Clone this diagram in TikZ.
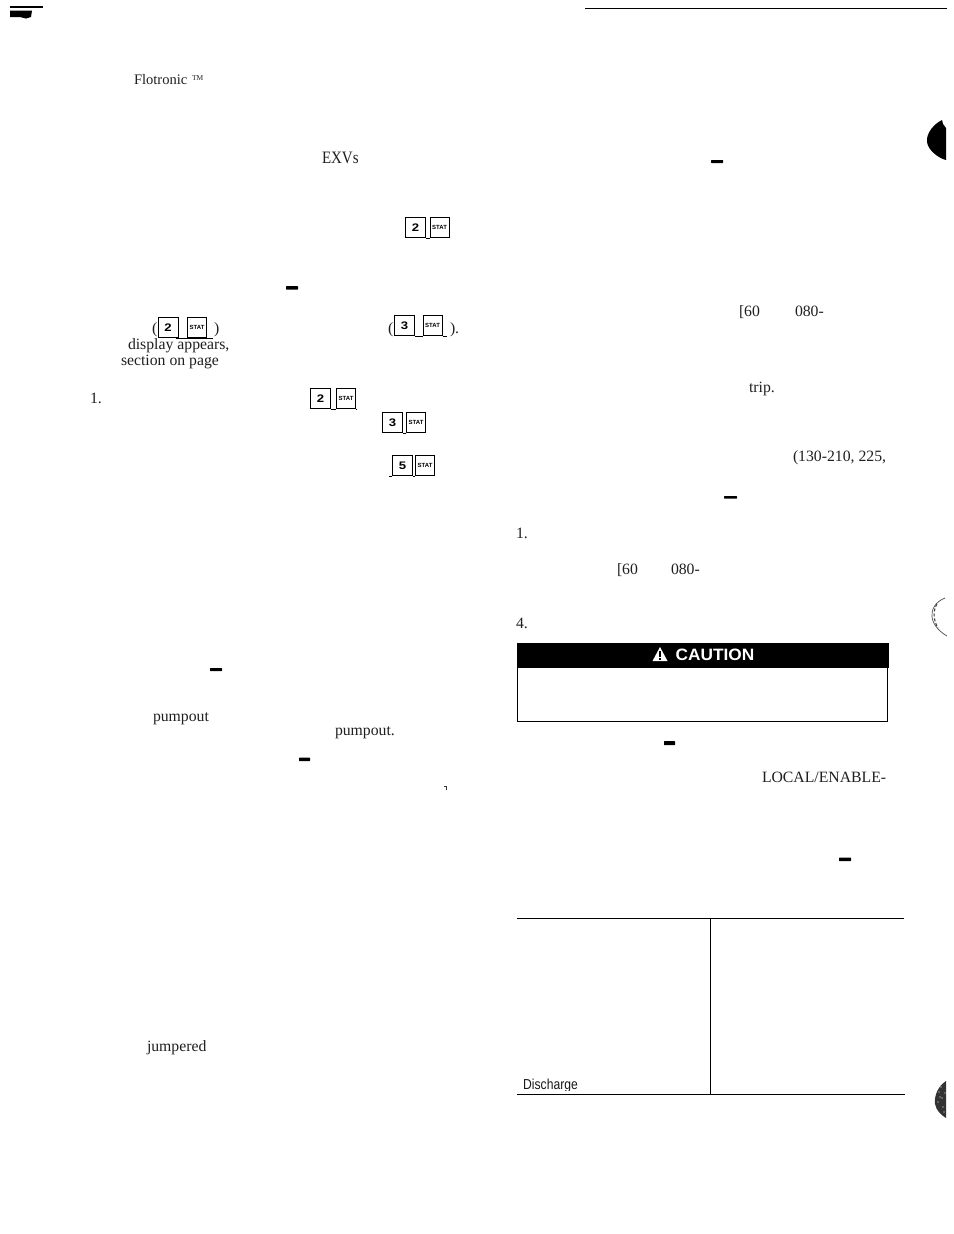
\documentclass[tikz,border=0pt]{standalone}
\usepackage{fontspec}
\setmainfont{Liberation Serif}
\setsansfont{Liberation Sans}
\tikzset{
  x=1bp,y=-1bp,
  txt/.style={anchor=base west,inner sep=0pt,outer sep=0pt,font=\fontsize{15.8}{16}\selectfont,text=black!88},
  keybox/.style={draw=black,line width=1.15pt,fill=white,inner sep=0pt,minimum width=20bp,minimum height=20bp,font=\sffamily\bfseries\fontsize{11}{11}\selectfont},
  statbox/.style={draw=black,line width=1.15pt,fill=white,inner sep=0pt,minimum width=19bp,minimum height=20bp,font=\sffamily\bfseries\fontsize{6}{6}\selectfont},
  tie/.style={line width=1pt,black},
  rulel/.style={line width=1pt,black},
  dashmark/.style={fill=black,draw=none,rounded corners=0.5bp},
}
% name, digit, left x of digit key, left x of stat key, top y
\newcommand{\keypair}[5]{%
  \node[keybox,anchor=north west] (#1a) at (#3,#5) {\addfontfeatures{FakeStretch=1.2}#2};
  \node[statbox,anchor=north west] (#1b) at (#4,#5) {STAT};
  \draw[tie] (#1a.south east) -- (#1b.south west);
}
\newcommand{\dashbar}[4]{\fill[dashmark] (#1,#3) rectangle (#2,#4);}
\begin{document}
\begin{tikzpicture}
\useasboundingbox (0,0) rectangle (954,1234);
\fill[white] (0,0) rectangle (954,1234);

% page-edge marks
\fill[black] (10,6) -- (43,6) -- (43,8) -- (10,8) -- cycle;
\fill[black] (10,10.5) -- (32,10.5) -- (31,17) -- (26,18.5) -- (20,17) -- (10,17) -- cycle;
\draw[line width=0.9pt,black] (585,8) -- (947,8);

% left column texts
\node[txt,font=\fontsize{14.6}{15}\selectfont] (flo) at (134,84.5) {Flotronic};
\node[txt,font=\fontsize{7.5}{8}\selectfont] (tm) at (192,80) {TM};
\node[txt,font=\fontsize{17.5}{18}\selectfont] (exv) at (322,163.5) {\addfontfeatures{FakeStretch=0.86}EXVs};
\node[txt] (pa) at (152,333) {(};
\node[txt] (pb) at (214,333) {)};
\node[txt] (pc) at (388,333) {(};
\node[txt] (pd) at (450,333) {).};
\node[txt] (dis) at (128,349.5) {display appears,};
\node[txt] (sec) at (121,365) {section on page};
\node[txt] (one) at (90,403) {1.};
\node[txt] (pu1) at (153,721) {pumpout};
\node[txt] (pu2) at (335,735) {pumpout.};
\node[txt] (jum) at (147,1051) {jumpered};

% key pairs
\keypair{ka}{2}{405}{429.5}{217}
\keypair{kb}{2}{157.5}{187}{317}
\draw[tie,line width=1.2pt] (kba.south east) ++(-3,0) -- (kbb.south east) -- ++(6,0);
\keypair{kc}{3}{394}{422.5}{315}
\draw[tie] (kcb.south east) -- ++(4,0);
\keypair{kd}{2}{310}{336}{388}
\draw[tie] (kdb.south east) -- ++(1,0);
\keypair{ke}{3}{382}{406}{412}
\keypair{kf}{5}{392}{415}{455}
\draw[tie] (kfa.south west) -- ++(-3,0);

% short dashes
\dashbar{286}{298}{286}{289.5}
\dashbar{711}{723}{160}{163}
\dashbar{210}{222}{668}{671}
\dashbar{299}{310}{757.5}{761}
\dashbar{724}{737}{496}{498.5}
\dashbar{664}{675}{741}{745}
\dashbar{839}{851}{857.5}{861}
\draw[line width=0.5pt,black!80] (443.5,786.5) -- (446,786.5) -- (446,790);

% right column texts
\node[txt] (r1a) at (739,316.5) {[60};
\node[txt] (r1b) at (795,316.5) {080-};
\node[txt] (trip) at (749,392.5) {trip.};
\node[txt] (mod) at (793,461.5) {(130-210, 225,};
\node[txt] (r1) at (516,538) {1.};
\node[txt] (r2a) at (617,574.5) {[60};
\node[txt] (r2b) at (671,574.5) {080-};
\node[txt] (r4) at (516,628) {4.};
\node[txt] (loc) at (762,782) {LOCAL/ENABLE-};

% caution box
\draw[line width=1pt,black] (517.5,660) rectangle (887.5,721);
\fill[black] (517,643) rectangle (889,668);
\fill[white] (660,647) -- (667.5,661) -- (652.5,661) -- cycle;
\fill[black] (659.2,651) rectangle (660.8,657);
\fill[black] (659.2,658) rectangle (660.8,659.6);
\node[anchor=base west,inner sep=0pt,text=white,font=\sffamily\bfseries\fontsize{16.5}{17}\selectfont] (cau) at (675.5,660.5) {\addfontfeatures{FakeStretch=1.05}CAUTION};

% table
\draw[rulel] (517,918) -- (904,918);
\draw[rulel] (517,1094) -- (905,1094);
\draw[rulel] (710.5,918) -- (710.5,1094);
\begin{scope}
\clip (515,1070) rectangle (600,1090.5);
\node[anchor=base west,inner sep=0pt,font=\sffamily\fontsize{14.5}{15}\selectfont,text=black!90] (dsc) at (523,1089.5) {\addfontfeatures{FakeStretch=0.84}Discharge};
\end{scope}

% scan blemishes
\fill[black] (942,120) .. controls (934,124) and (926,133) .. (927,142) .. controls (928,150) and (938,158) .. (946,160) -- (946,128) -- (943,124) -- cycle;
\draw[black!70,line width=0.7pt] (945,598) .. controls (935,602) and (931,610) .. (932,617) .. controls (933,625) and (940,632) .. (947,636);
\draw[black!75,line width=1.1pt,densely dashed] (937,604) .. controls (933,610) and (933,620) .. (938,628);
\fill[black!80] (946,1081) .. controls (938,1086) and (934,1096) .. (935,1104) .. controls (936,1110) and (941,1115) .. (946,1118) -- cycle;
\foreach \a/\b in {939/1092,942/1098,938/1102,943/1107,941/1087,945/1093,944/1112,940/1097}
  \fill[white] (\a,\b) circle (0.7);
\end{tikzpicture}
\end{document}
